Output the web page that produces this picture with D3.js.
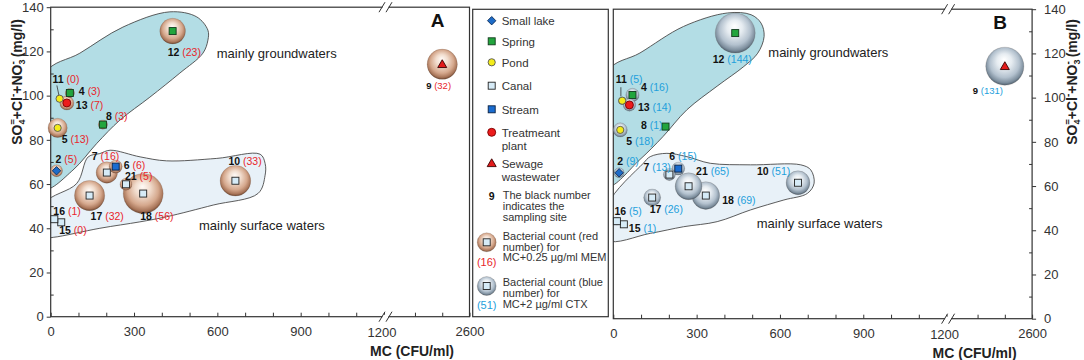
<!DOCTYPE html>
<html>
<head>
<meta charset="utf-8">
<script src="https://cdn.jsdelivr.net/npm/d3@7"></script>
<style>
  body { margin: 0; background: #fff; }
  svg { display: block; font-family: "Liberation Sans", Arial, Helvetica, sans-serif; }
</style>
</head>
<body>
<svg id="chart" width="1084" height="360"></svg>
<script>
// ===== data =====
const sites      = [2, 4, 5, 6, 7, 8, 9, 10, 11, 12, 13, 15, 16, 17, 18, 21];
const siteTypes  = ['lake', 'spring', 'pond', 'stream', 'canal', 'spring', 'sewage', 'canal',
                    'pond', 'spring', 'plant', 'canal', 'canal', 'canal', 'canal', 'canal'];
const mcValues   = [21, 69, 25, 234, 202, 188, 2500, 665, 32, 439, 58, 38, 13, 140, 333, 271];
const anionValues = [66, 101.2, 85.4, 67.9, 65.2, 86.9, 114.2, 61.5, 98.6, 129.2, 96.7, 42.7, 44.1, 54.8, 55.7, 59.9];
const countMEM   = [5, 3, 13, 6, 16, 3, 32, 33, 0, 23, 7, 0, 1, 32, 56, 5];      // panel A, red
const countCTX   = [9, 16, 18, 15, 13, 1, 131, 51, 5, 144, 14, 1, 5, 26, 69, 65]; // panel B, blue

const xTickValues  = [0, 100, 200, 300, 400, 500, 600, 700, 800, 900, 1000, 1100, 1200, 2400, 2500, 2600];
const xTickLabels  = [0, 300, 600, 900, 2600];
const yTickValues  = d3.range(0, 141, 10);

// outlines of the two water groups [MC, mg/l]
const groundHullA  = [[-20, 58], [80, 66.3], [166, 78.4], [249, 88.9], [357, 99.3], [465, 110.2], [548, 119.2],
                      [566, 125.1], [566, 129.6], [526, 135.6], [429, 137.9], [260, 131], [105, 119.2], [-20, 110]];
const surfaceHullA = [[-20, 35.9], [9, 35.9], [177, 40], [321, 42.9], [417, 45.2], [585, 50.5], [747, 55.8],
                      [772, 64], [772, 69.3], [754, 73.5], [598, 71.6], [417, 70.5], [322, 72.3], [214, 75.3],
                      [177, 73.8], [135, 72.3], [94, 60.3], [-20, 51.3]];
const groundHullB  = [[-20, 60], [96, 72], [179, 82.4], [265, 94.5], [374, 105.2], [470, 114.1], [520, 120.1],
                      [543, 127.7], [532, 133.7], [496, 137.5], [411, 138.3], [253, 132.2], [96, 120.2], [-20, 111.8]];
const surfaceHullB = [[-20, 35.6], [133, 38.6], [253, 41.6], [374, 43.9], [494, 49.2], [614, 53.7], [699, 56.7],
                      [723, 61.3], [711, 67.3], [675, 69.6], [494, 69.6], [349, 70.3], [265, 73.3], [193, 74.8],
                      [133, 73.3], [108, 70.3], [-20, 51.4]];

// label placement (pixels, relative to the marker) – same order as sites
const labelOffA = [[-1, -8], [9, 2], [4, 15], [8, 2.5], [-15, -13], [3, -5], [-16, 25], [-7, -16],
                   [-7, -15.5], [-5, 25], [9, 6.5], [-2, 11.5], [-1, -4.5], [1, 24], [-3, 26.5], [-1, -4]];
const labelOffB = [[-2, -7.5], [8.5, -3.5], [6, 15.5], [-9, -9], [-26, -4], [-24.5, 2], [-32, 27.5], [-41, -7.5],
                   [-6.5, -17.5], [-22.5, 29.5], [8.5, 6.5], [5, 7.5], [-2.5, -6.5], [-2.5, 15.5], [16.5, 8], [7.5, -11]];

const typeStyle = {
  lake:   { fill: '#1e6cc8', stroke: '#0b2a55' },
  spring: { fill: '#22a53d', stroke: '#123a1c' },
  pond:   { fill: '#f4ec1a', stroke: '#555555' },
  canal:  { fill: '#d6ebf7', stroke: '#222222' },
  stream: { fill: '#1a6cd0', stroke: '#0a2040' },
  plant:  { fill: '#ec1c1c', stroke: '#7a0000' },
  sewage: { fill: '#e31b1b', stroke: '#3a0000' }
};

const W = 418.8, H = 309.5;
const panels = [
  { key: 'A', x0: 50.7,  y0: 7.2, counts: countMEM, grad: 'gradA', color: '#e8262b', maxCount: 56,
    ground: groundHullA, surface: surfaceHullA, labelOff: labelOffA, axisRight: false,
    groundText: [216.7, 58.3], surfaceText: [199, 230], leader: [-2.7, -13.3, -0.7, -3.6] },
  { key: 'B', x0: 613.3, y0: 9.2, counts: countCTX, grad: 'gradB', color: '#1ea0dc', maxCount: 144,
    ground: groundHullB, surface: surfaceHullB, labelOff: labelOffB, axisRight: true,
    groundText: [768.3, 56.7], surfaceText: [756.7, 228.3], leader: [-1.3, -13.5, -1.3, -4.3] }
];

const svg = d3.select('#chart');
const defs = svg.append('defs');

function sphere(id, stops) {
  const g = defs.append('radialGradient').attr('id', id)
    .attr('cx', '50%').attr('cy', '45%').attr('r', '55%').attr('fx', '48%').attr('fy', '32%');
  stops.forEach(s => g.append('stop').attr('offset', s[0]).attr('stop-color', s[1]));
}
sphere('gradA', [[0, '#fffaf6'], [0.35, '#f1dccd'], [0.7, '#d5a88d'], [0.9, '#a9765a'], [1, '#6e4630']]);
sphere('gradB', [[0, '#ffffff'], [0.35, '#e6ecf1'], [0.7, '#b3c1ce'], [0.9, '#7d8e9d'], [1, '#4d5d6b']]);

function drawMarker(g, type, cx, cy) {
  const st = typeStyle[type];
  let m;
  if (type === 'lake') {
    m = g.append('path').attr('d', `M${cx},${cy - 4.2}L${cx + 4.2},${cy}L${cx},${cy + 4.2}L${cx - 4.2},${cy}Z`);
  } else if (type === 'pond') {
    m = g.append('circle').attr('cx', cx).attr('cy', cy).attr('r', 3.6);
  } else if (type === 'plant') {
    m = g.append('circle').attr('cx', cx).attr('cy', cy).attr('r', 4);
  } else if (type === 'sewage') {
    m = g.append('path').attr('d', `M${cx},${cy - 4.5}L${cx + 4.5},${cy + 3.3}L${cx - 4.5},${cy + 3.3}Z`);
  } else {
    m = g.append('rect').attr('x', cx - 3.5).attr('y', cy - 3.5).attr('width', 7).attr('height', 7);
  }
  m.attr('fill', st.fill).attr('stroke', st.stroke).attr('stroke-width', 0.9);
}

function drawBreak(g, xm, ym) {
  g.append('rect').attr('x', xm - 3).attr('y', ym - 2).attr('width', 6).attr('height', 4).attr('fill', '#fff');
  [-3.5, 3.5].forEach(o => {
    g.append('line')
      .attr('x1', xm + o - 3).attr('y1', ym + 5)
      .attr('x2', xm + o + 3).attr('y2', ym - 5)
      .attr('stroke', '#333').attr('stroke-width', 1);
  });
}

function yTitle(x, y) {
  const t = svg.append('text')
    .attr('transform', `translate(${x},${y}) rotate(-90)`)
    .attr('text-anchor', 'middle')
    .attr('font-size', 14).attr('font-weight', 'bold').attr('fill', '#222');
  t.append('tspan').text('SO');
  t.append('tspan').attr('font-size', 9).attr('dy', 3).text('4');
  t.append('tspan').attr('font-size', 9).attr('dx', -5).attr('dy', -9).text('=');
  t.append('tspan').attr('dy', 6).text('+Cl');
  t.append('tspan').attr('font-size', 10).attr('dy', -6).text('-');
  t.append('tspan').attr('dy', 6).text('+NO');
  t.append('tspan').attr('font-size', 9).attr('dy', 3).text('3');
  t.append('tspan').attr('font-size', 10).attr('dx', -5).attr('dy', -9).text('-');
  t.append('tspan').attr('dy', 6).text(' (mg/l)');
}

panels.forEach((p, pi) => {
  const x = d3.scaleLinear()
    .domain([0, 1200, 2300, 2600])
    .range([p.x0, p.x0 + 333.3, p.x0 + 337, p.x0 + W]);
  const y = d3.scaleLinear().domain([0, 140]).range([p.y0 + H, p.y0]);
  const r = d3.scaleSqrt().domain([0, p.maxCount]).range([0, 20]);

  const g = svg.append('g');
  const clipId = 'clip' + p.key;
  defs.append('clipPath').attr('id', clipId).append('rect')
    .attr('x', p.x0).attr('y', p.y0).attr('width', W).attr('height', H);

  // water group outlines
  const hull = d3.line().x(d => x(d[0])).y(d => y(d[1])).curve(d3.curveCatmullRomClosed.alpha(0.5));
  const hulls = g.append('g').attr('clip-path', `url(#${clipId})`);
  hulls.append('path').attr('d', hull(p.ground))
    .attr('fill', '#b3dde5').attr('stroke', '#4a4a4a').attr('stroke-width', 0.9);
  hulls.append('path').attr('d', hull(p.surface))
    .attr('fill', '#e8f1f8').attr('stroke', '#4a4a4a').attr('stroke-width', 0.9);

  g.append('text').attr('x', p.groundText[0]).attr('y', p.groundText[1])
    .attr('font-size', 13).attr('fill', '#222').text('mainly groundwaters');
  g.append('text').attr('x', p.surfaceText[0]).attr('y', p.surfaceText[1])
    .attr('font-size', 13).attr('fill', '#222').text('mainly surface waters');

  // frame
  g.append('rect').attr('x', p.x0).attr('y', p.y0).attr('width', W).attr('height', H)
    .attr('fill', 'none').attr('stroke', '#333').attr('stroke-width', 1.2);

  // x axis
  const xAxis = g.append('g').attr('transform', `translate(0,${p.y0 + H})`)
    .call(d3.axisBottom(x).tickValues(xTickValues).tickSize(-4).tickPadding(10)
      .tickFormat(d => xTickLabels.includes(d) ? d : ''));
  xAxis.select('.domain').remove();
  xAxis.selectAll('line').attr('stroke', '#333');
  xAxis.selectAll('text').attr('font-size', 13).attr('fill', '#333')
    .attr('font-family', '"Liberation Sans", Arial, sans-serif');
  g.append('text').attr('x', x(1200) - 2).attr('y', p.y0 + H + 20.5).attr('text-anchor', 'middle')
    .attr('font-size', 13).attr('fill', '#333').text('1200');

  // y axis
  const yAx = (p.axisRight ? d3.axisRight(y) : d3.axisLeft(y))
    .tickValues(yTickValues).tickSize(4).tickPadding(p.axisRight ? 8 : 3)
    .tickFormat(d => d % 20 === 0 ? d : '');
  const yAxis = g.append('g').attr('transform', `translate(${p.axisRight ? p.x0 + W : p.x0},0)`).call(yAx);
  yAxis.select('.domain').remove();
  yAxis.selectAll('.tick line').attr('stroke', '#333')
    .attr('x2', d => (d % 20 === 0 ? 4 : -3) * (p.axisRight ? 1 : -1));
  yAxis.selectAll('text').attr('font-size', 13).attr('fill', '#333')
    .attr('font-family', '"Liberation Sans", Arial, sans-serif');

  // axis breaks
  drawBreak(g, x(1200) + 1.5, p.y0 + H);
  drawBreak(g, x(1200) + 1.5, p.y0);

  g.append('text').attr('x', x(1200) + 28).attr('y', p.y0 + H + 39).attr('text-anchor', 'middle')
    .attr('font-size', 14).attr('font-weight', 'bold').attr('fill', '#222').text('MC (CFU/ml)');
  g.append('text').attr('x', p.x0 + W - 32).attr('y', p.y0 + 20).attr('text-anchor', 'middle')
    .attr('font-size', 19).attr('font-weight', 'bold').attr('fill', '#111').text(p.key);

  // bubbles (largest first)
  const order = d3.range(sites.length).sort((a, b) => p.counts[b] - p.counts[a]);
  const bub = g.append('g');
  order.forEach(i => {
    if (p.counts[i] <= 0) return;
    bub.append('circle').attr('cx', x(mcValues[i])).attr('cy', y(anionValues[i]))
      .attr('r', r(p.counts[i])).attr('fill', `url(#${p.grad})`)
      .attr('stroke', '#5a4a40').attr('stroke-opacity', 0.35).attr('stroke-width', 0.5);
  });

  // markers
  const mk = g.append('g');
  sites.forEach((s, i) => drawMarker(mk, siteTypes[i], x(mcValues[i]), y(anionValues[i])));

  // leader line for site 11
  const i11 = sites.indexOf(11);
  const lx = x(mcValues[i11]), ly = y(anionValues[i11]);
  g.append('line').attr('x1', lx + p.leader[0]).attr('y1', ly + p.leader[1])
    .attr('x2', lx + p.leader[2]).attr('y2', ly + p.leader[3])
    .attr('stroke', '#333').attr('stroke-width', 0.8);

  // site labels
  sites.forEach((s, i) => {
    const t = g.append('text')
      .attr('x', x(mcValues[i]) + p.labelOff[i][0])
      .attr('y', y(anionValues[i]) + p.labelOff[i][1])
      .attr('font-size', s === 9 ? 9.5 : 10.5);
    t.append('tspan').attr('font-weight', 'bold').attr('fill', '#111').text(s + ' ');
    t.append('tspan').attr('fill', p.color).text(`(${p.counts[i]})`);
  });
});

yTitle(22, 82);
yTitle(1077, 82);

// ===== legend =====
const legendTypes  = ['lake', 'spring', 'pond', 'canal', 'stream', 'plant', 'sewage'];
const legendLabels = [['Small lake'], ['Spring'], ['Pond'], ['Canal'], ['Stream'], ['Treatmeant', 'plant'], ['Sewage', 'wastewater']];
const legendY      = [20.7, 41.3, 62.3, 85.7, 109.3, 132.3, 163.3];

const lg = svg.append('g');
lg.append('rect').attr('x', 472.7).attr('y', 9.3).attr('width', 135.6).attr('height', 307.4)
  .attr('fill', '#fff').attr('stroke', '#333').attr('stroke-width', 1.2);

legendTypes.forEach((t, i) => {
  drawMarker(lg, t, 491.7, legendY[i]);
  legendLabels[i].forEach((line, j) => {
    lg.append('text').attr('x', 501.7).attr('y', legendY[i] + 4.3 + j * 13)
      .attr('font-size', 11.5).attr('fill', '#333').text(line);
  });
});

lg.append('text').attr('x', 491.7).attr('y', 199.5).attr('text-anchor', 'middle')
  .attr('font-size', 10.5).attr('font-weight', 'bold').attr('fill', '#111').text('9');
['The black number', 'indicates the', 'sampling site'].forEach((line, j) => {
  lg.append('text').attr('x', 502.7).attr('y', 198.7 + j * 11).attr('font-size', 11).attr('fill', '#333').text(line);
});

const legendBubbles = [
  { grad: 'gradA', cy: 242.3, num: '(16)', color: '#e8262b', lines: ['Bacterial count (red', 'number) for', 'MC+0.25 µg/ml MEM'], ty: 239.7 },
  { grad: 'gradB', cy: 286,   num: '(51)', color: '#1ea0dc', lines: ['Bacterial count (blue', 'number) for', 'MC+2 µg/ml CTX'], ty: 286.4 }
];
legendBubbles.forEach(b => {
  lg.append('circle').attr('cx', 486.7).attr('cy', b.cy).attr('r', 9.5).attr('fill', `url(#${b.grad})`)
    .attr('stroke', '#5a4a40').attr('stroke-opacity', 0.35).attr('stroke-width', 0.5);
  drawMarker(lg, 'canal', 486.7, b.cy);
  lg.append('text').attr('x', 486.7).attr('y', b.cy + 23.3).attr('text-anchor', 'middle')
    .attr('font-size', 11).attr('fill', b.color).text(b.num);
  b.lines.forEach((line, j) => {
    lg.append('text').attr('x', 502.7).attr('y', b.ty + j * 10.8).attr('font-size', 11).attr('fill', '#333').text(line);
  });
});
</script>
</body>
</html>
